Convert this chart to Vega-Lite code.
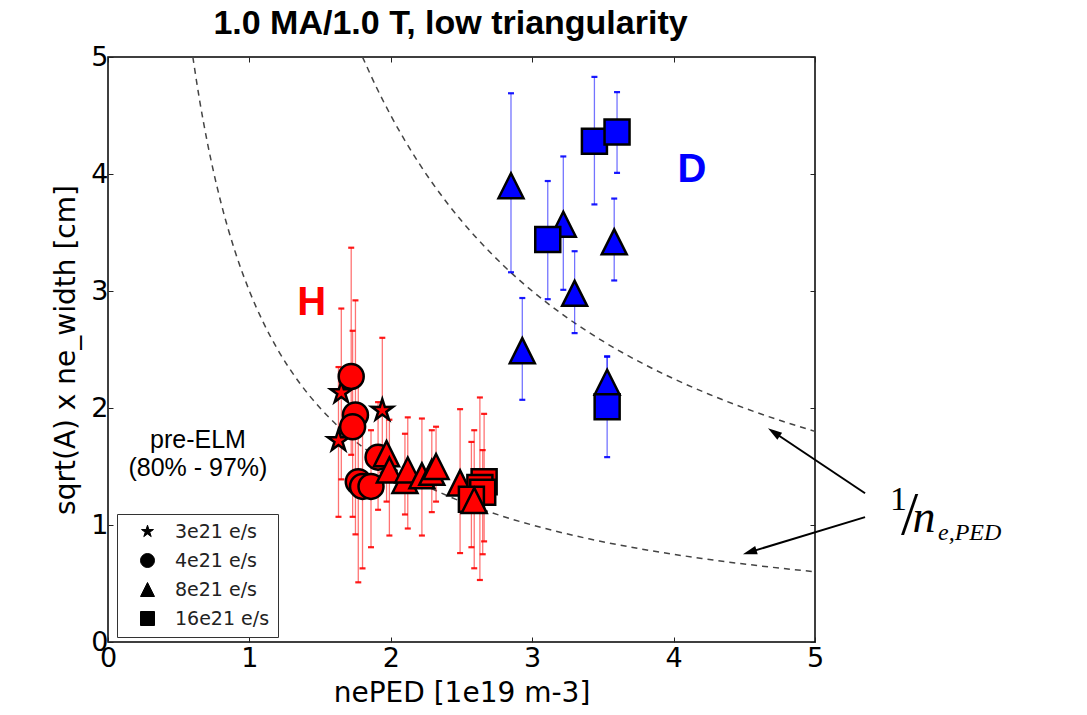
{
  "$schema": "https://vega.github.io/schema/vega-lite/v6.json",
  "width": 707,
  "height": 585,
  "autosize": "none",
  "padding": {"left": 108, "top": 57, "right": 272, "bottom": 73},
  "background": "white",
  "title": {"text": "1.0 MA/1.0 T, low triangularity", "font": "Liberation Sans", "fontSize": 34, "fontWeight": "bold", "color": "black", "anchor": "middle", "dx": -11, "offset": 2},
  "config": {
    "view": {"stroke": "black", "strokeWidth": 1.5},
    "axis": {"grid": false, "domain": false, "labelFlush": false, "tickColor": "#222", "tickSize": -5, "tickWidth": 1, "labelFont": "DejaVu Sans", "labelFontSize": 27, "labelColor": "black", "titleFont": "DejaVu Sans", "titleFontSize": 28, "titleFontWeight": "normal", "titleColor": "black"}
  },
  "datasets": {
    "pts": [
      {"x": 1.65, "y": 2.13, "lo": 1.39, "hi": 2.85, "sp": "H", "rate": "3e21 e/s"},
      {"x": 1.63, "y": 1.72, "lo": 1.07, "hi": 2.35, "sp": "H", "rate": "3e21 e/s"},
      {"x": 1.94, "y": 1.98, "lo": 1.45, "hi": 2.60, "sp": "H", "rate": "3e21 e/s"},
      {"x": 1.72, "y": 2.27, "lo": 1.60, "hi": 3.37, "sp": "H", "rate": "4e21 e/s"},
      {"x": 1.75, "y": 1.94, "lo": 0.92, "hi": 2.92, "sp": "H", "rate": "4e21 e/s"},
      {"x": 1.73, "y": 1.84, "lo": 1.07, "hi": 2.66, "sp": "H", "rate": "4e21 e/s"},
      {"x": 1.91, "y": 1.58, "lo": 1.13, "hi": 2.05, "sp": "H", "rate": "4e21 e/s"},
      {"x": 1.77, "y": 1.37, "lo": 0.51, "hi": 2.20, "sp": "H", "rate": "4e21 e/s"},
      {"x": 1.80, "y": 1.33, "lo": 0.63, "hi": 1.95, "sp": "H", "rate": "4e21 e/s"},
      {"x": 1.86, "y": 1.33, "lo": 0.81, "hi": 1.81, "sp": "H", "rate": "4e21 e/s"},
      {"x": 1.97, "y": 1.61, "lo": 1.20, "hi": 2.00, "sp": "H", "rate": "8e21 e/s"},
      {"x": 1.99, "y": 1.47, "lo": 0.91, "hi": 1.90, "sp": "H", "rate": "8e21 e/s"},
      {"x": 2.10, "y": 1.38, "lo": 1.09, "hi": 1.78, "sp": "H", "rate": "8e21 e/s"},
      {"x": 2.12, "y": 1.47, "lo": 0.97, "hi": 1.92, "sp": "H", "rate": "8e21 e/s"},
      {"x": 2.22, "y": 1.42, "lo": 0.91, "hi": 1.91, "sp": "H", "rate": "8e21 e/s"},
      {"x": 2.29, "y": 1.45, "lo": 1.11, "hi": 1.81, "sp": "H", "rate": "8e21 e/s"},
      {"x": 2.32, "y": 1.50, "lo": 1.20, "hi": 1.84, "sp": "H", "rate": "8e21 e/s"},
      {"x": 2.49, "y": 1.36, "lo": 0.76, "hi": 1.99, "sp": "H", "rate": "8e21 e/s"},
      {"x": 2.66, "y": 1.37, "lo": 0.86, "hi": 1.95, "sp": "H", "rate": "16e21 e/s"},
      {"x": 2.63, "y": 1.32, "lo": 0.53, "hi": 2.09, "sp": "H", "rate": "16e21 e/s"},
      {"x": 2.65, "y": 1.28, "lo": 0.75, "hi": 1.64, "sp": "H", "rate": "16e21 e/s"},
      {"x": 2.57, "y": 1.22, "lo": 0.81, "hi": 1.71, "sp": "H", "rate": "16e21 e/s"},
      {"x": 2.59, "y": 1.21, "lo": 0.63, "hi": 1.81, "sp": "H", "rate": "8e21 e/s"},
      {"x": 2.85, "y": 3.90, "lo": 3.16, "hi": 4.69, "sp": "D", "rate": "8e21 e/s"},
      {"x": 3.22, "y": 3.57, "lo": 3.01, "hi": 4.15, "sp": "D", "rate": "8e21 e/s"},
      {"x": 3.58, "y": 3.42, "lo": 3.09, "hi": 3.79, "sp": "D", "rate": "8e21 e/s"},
      {"x": 3.30, "y": 2.98, "lo": 2.64, "hi": 3.34, "sp": "D", "rate": "8e21 e/s"},
      {"x": 2.93, "y": 2.49, "lo": 2.07, "hi": 2.94, "sp": "D", "rate": "8e21 e/s"},
      {"x": 3.53, "y": 2.22, "lo": 2.00, "hi": 2.44, "sp": "D", "rate": "8e21 e/s"},
      {"x": 3.11, "y": 3.44, "lo": 2.93, "hi": 3.94, "sp": "D", "rate": "16e21 e/s"},
      {"x": 3.44, "y": 4.28, "lo": 3.74, "hi": 4.83, "sp": "D", "rate": "16e21 e/s"},
      {"x": 3.60, "y": 4.36, "lo": 4.01, "hi": 4.70, "sp": "D", "rate": "16e21 e/s"},
      {"x": 3.53, "y": 2.01, "lo": 1.58, "hi": 2.44, "sp": "D", "rate": "16e21 e/s"}
    ],
    "curves": [
      {"c": "a", "x": 0.6, "y": 5.0}, {"c": "a", "x": 0.65, "y": 4.615}, {"c": "a", "x": 0.7, "y": 4.286}, {"c": "a", "x": 0.8, "y": 3.75}, {"c": "a", "x": 0.9, "y": 3.333}, {"c": "a", "x": 1.0, "y": 3.0}, {"c": "a", "x": 1.1, "y": 2.727}, {"c": "a", "x": 1.2, "y": 2.5}, {"c": "a", "x": 1.35, "y": 2.222}, {"c": "a", "x": 1.5, "y": 2.0}, {"c": "a", "x": 1.7, "y": 1.765}, {"c": "a", "x": 1.9, "y": 1.579}, {"c": "a", "x": 2.1, "y": 1.429}, {"c": "a", "x": 2.4, "y": 1.25}, {"c": "a", "x": 2.7, "y": 1.111}, {"c": "a", "x": 3.0, "y": 1.0}, {"c": "a", "x": 3.4, "y": 0.882}, {"c": "a", "x": 3.8, "y": 0.789}, {"c": "a", "x": 4.2, "y": 0.714}, {"c": "a", "x": 4.6, "y": 0.652}, {"c": "a", "x": 5.0, "y": 0.6},
      {"c": "b", "x": 1.8, "y": 5.0}, {"c": "b", "x": 1.9, "y": 4.737}, {"c": "b", "x": 2.0, "y": 4.5}, {"c": "b", "x": 2.2, "y": 4.091}, {"c": "b", "x": 2.4, "y": 3.75}, {"c": "b", "x": 2.6, "y": 3.462}, {"c": "b", "x": 2.8, "y": 3.214}, {"c": "b", "x": 3.0, "y": 3.0}, {"c": "b", "x": 3.25, "y": 2.769}, {"c": "b", "x": 3.5, "y": 2.571}, {"c": "b", "x": 3.75, "y": 2.4}, {"c": "b", "x": 4.0, "y": 2.25}, {"c": "b", "x": 4.25, "y": 2.118}, {"c": "b", "x": 4.5, "y": 2.0}, {"c": "b", "x": 4.75, "y": 1.895}, {"c": "b", "x": 5.0, "y": 1.8}
    ]
  },
  "resolve": {"axis": {"x": "independent", "y": "independent"}},
  "layer": [
    {
      "data": {"name": "curves"},
      "mark": {"type": "line", "strokeDash": [6, 5], "color": "#444", "strokeWidth": 1.5, "interpolate": "monotone"},
      "encoding": {
        "x": {"field": "x", "type": "quantitative", "scale": {"domain": [0, 5], "nice": false}, "axis": {"orient": "top", "labels": false, "title": null, "values": [0, 1, 2, 3, 4, 5]}},
        "y": {"field": "y", "type": "quantitative", "scale": {"domain": [0, 5], "nice": false}, "axis": {"orient": "right", "labels": false, "title": null, "values": [0, 1, 2, 3, 4, 5]}},
        "detail": {"field": "c"}
      }
    },
    {
      "data": {"name": "pts"},
      "mark": {"type": "rule", "strokeWidth": 1.3, "opacity": 0.55},
      "encoding": {
        "x": {"field": "x", "type": "quantitative", "axis": null},
        "y": {"field": "lo", "type": "quantitative", "axis": null},
        "y2": {"field": "hi"},
        "color": {"field": "sp", "type": "nominal", "scale": {"domain": ["H", "D"], "range": ["#ff0000", "#0000ff"]}, "legend": null}
      }
    },
    {
      "data": {"name": "pts"},
      "mark": {"type": "tick", "orient": "horizontal", "size": 6, "thickness": 2.2, "opacity": 0.9},
      "encoding": {
        "x": {"field": "x", "type": "quantitative", "axis": null},
        "y": {"field": "lo", "type": "quantitative", "axis": null},
        "color": {"field": "sp", "type": "nominal", "legend": null}
      }
    },
    {
      "data": {"name": "pts"},
      "mark": {"type": "tick", "orient": "horizontal", "size": 6, "thickness": 2.2, "opacity": 0.9},
      "encoding": {
        "x": {"field": "x", "type": "quantitative", "axis": null},
        "y": {"field": "hi", "type": "quantitative", "axis": null},
        "color": {"field": "sp", "type": "nominal", "legend": null}
      }
    },
    {
      "data": {"name": "pts"},
      "mark": {"type": "point", "filled": true, "size": 625, "stroke": "black", "strokeWidth": 2.5, "opacity": 1},
      "encoding": {
        "x": {"field": "x", "type": "quantitative", "title": "nePED [1e19 m-3]", "axis": {"orient": "bottom", "values": [0, 1, 2, 3, 4, 5], "labelPadding": 8, "titlePadding": 8}},
        "y": {"field": "y", "type": "quantitative", "title": "sqrt(A) x ne_width [cm]", "axis": {"orient": "left", "values": [0, 1, 2, 3, 4, 5], "labelPadding": 5, "titlePadding": 10}},
        "fill": {"field": "sp", "type": "nominal", "scale": {"domain": ["H", "D"], "range": ["#ff0000", "#0000ff"]}, "legend": null},
        "shape": {"field": "rate", "type": "nominal",
          "scale": {"domain": ["3e21 e/s", "4e21 e/s", "8e21 e/s", "16e21 e/s"], "range": ["M0,-0.9L0.201,-0.276L0.856,-0.278L0.325,0.105L0.529,0.728L0,0.342L-0.529,0.728L-0.325,0.105L-0.856,-0.278L-0.201,-0.276Z", "circle", "M0,-1L1,1L-1,1Z", "square"]},
          "legend": {"title": null, "orient": "none", "legendX": 9, "legendY": 457, "symbolSize": 196, "symbolFillColor": "black", "symbolStrokeColor": "black", "symbolStrokeWidth": 1, "symbolOffset": 13, "labelOffset": 18, "labelFont": "DejaVu Sans", "labelFontSize": 19, "labelColor": "#222", "rowPadding": 9, "padding": 8, "strokeColor": "#333", "fillColor": "white", "cornerRadius": 0,
            "encode": {
              "symbols": {"update": {
                "fill": {"value": "black"}, "stroke": {"value": "black"}, "opacity": {"value": 1},
                "shape": {"signal": "datum.value === '3e21 e/s' ? 'M-1.8,-1L-1.577,-0.307L-0.849,-0.309L-1.439,0.117L-1.212,0.809L-1.8,0.38L-2.388,0.809L-2.161,0.117L-2.751,-0.309L-2.023,-0.307ZM1.8,-1L2.023,-0.307L2.751,-0.309L2.161,0.117L2.388,0.809L1.8,0.38L1.212,0.809L1.439,0.117L0.849,-0.309L1.577,-0.307Z' : datum.value === '4e21 e/s' ? 'M-0.8,0A1,1 0 1,0 -2.8,0A1,1 0 1,0 -0.8,0ZM2.8,0A1,1 0 1,0 0.8,0A1,1 0 1,0 2.8,0Z' : datum.value === '8e21 e/s' ? 'M-1.8,-1L-0.8,1L-2.8,1ZM1.8,-1L2.8,1L0.8,1Z' : 'M-2.8,-1L-0.8,-1L-0.8,1L-2.8,1ZM0.8,-1L2.8,-1L2.8,1L0.8,1Z'"}
              }},
              "legend": {"update": {"strokeWidth": {"value": 1.5}}}
            }
          }
        }
      }
    },
    {
      "data": {"values": [{"x": 1.44, "y": 2.90, "t": "H"}]},
      "mark": {"type": "text", "font": "Liberation Sans", "fontWeight": "bold", "fontSize": 40, "color": "#ff0000", "baseline": "middle", "align": "center"},
      "encoding": {"x": {"field": "x", "type": "quantitative", "axis": null}, "y": {"field": "y", "type": "quantitative", "axis": null}, "text": {"field": "t"}}
    },
    {
      "data": {"values": [{"x": 4.13, "y": 4.03, "t": "D"}]},
      "mark": {"type": "text", "font": "Liberation Sans", "fontWeight": "bold", "fontSize": 40, "color": "#0000ff", "baseline": "middle", "align": "center"},
      "encoding": {"x": {"field": "x", "type": "quantitative", "axis": null}, "y": {"field": "y", "type": "quantitative", "axis": null}, "text": {"field": "t"}}
    },
    {
      "data": {"values": [{"x": 0.636, "y": 1.73, "t": "pre-ELM"}, {"x": 0.636, "y": 1.485, "t": "(80% - 97%)"}]},
      "mark": {"type": "text", "font": "Liberation Sans", "fontSize": 25, "color": "black", "baseline": "middle", "align": "center"},
      "encoding": {"x": {"field": "x", "type": "quantitative", "axis": null}, "y": {"field": "y", "type": "quantitative", "axis": null}, "text": {"field": "t"}}
    },
    {
      "data": {"values": [{"x": 5.354, "y": 1.271, "x2": 4.709, "y2": 1.793}, {"x": 5.354, "y": 1.067, "x2": 4.538, "y2": 0.768}]},
      "mark": {"type": "rule", "color": "black", "strokeWidth": 2},
      "encoding": {"x": {"field": "x", "type": "quantitative", "axis": null}, "y": {"field": "y", "type": "quantitative", "axis": null}, "x2": {"field": "x2"}, "y2": {"field": "y2"}}
    },
    {
      "data": {"values": [{"x": 4.709, "y": 1.793}]},
      "mark": {"type": "point", "shape": "M0,-1L0.6,1L-0.6,1Z", "filled": true, "color": "black", "opacity": 1, "size": 200, "angle": 304},
      "encoding": {"x": {"field": "x", "type": "quantitative", "axis": null}, "y": {"field": "y", "type": "quantitative", "axis": null}}
    },
    {
      "data": {"values": [{"x": 4.538, "y": 0.768}]},
      "mark": {"type": "point", "shape": "M0,-1L0.6,1L-0.6,1Z", "filled": true, "color": "black", "opacity": 1, "size": 200, "angle": 253},
      "encoding": {"x": {"field": "x", "type": "quantitative", "axis": null}, "y": {"field": "y", "type": "quantitative", "axis": null}}
    },
    {
      "data": {"values": [{"x": 5.53, "y": 1.126, "t": "1"}]},
      "mark": {"type": "text", "font": "Liberation Serif", "fontSize": 34, "color": "black", "baseline": "alphabetic", "align": "left"},
      "encoding": {"x": {"field": "x", "type": "quantitative", "axis": null}, "y": {"field": "y", "type": "quantitative", "axis": null}, "text": {"field": "t"}}
    },
    {
      "data": {"values": [{"x": 5.608, "y": 0.92, "t": "/"}]},
      "mark": {"type": "text", "font": "Liberation Serif", "fontSize": 62, "color": "black", "baseline": "alphabetic", "align": "left"},
      "encoding": {"x": {"field": "x", "type": "quantitative", "axis": null}, "y": {"field": "y", "type": "quantitative", "axis": null}, "text": {"field": "t"}}
    },
    {
      "data": {"values": [{"x": 5.69, "y": 0.939, "t": "n"}]},
      "mark": {"type": "text", "font": "Liberation Serif", "fontStyle": "italic", "fontSize": 46, "color": "black", "baseline": "alphabetic", "align": "left"},
      "encoding": {"x": {"field": "x", "type": "quantitative", "axis": null}, "y": {"field": "y", "type": "quantitative", "axis": null}, "text": {"field": "t"}}
    },
    {
      "data": {"values": [{"x": 5.87, "y": 0.87, "t": "e,PED"}]},
      "mark": {"type": "text", "font": "Liberation Serif", "fontStyle": "italic", "fontSize": 24, "color": "black", "baseline": "alphabetic", "align": "left"},
      "encoding": {"x": {"field": "x", "type": "quantitative", "axis": null}, "y": {"field": "y", "type": "quantitative", "axis": null}, "text": {"field": "t"}}
    }
  ]
}
